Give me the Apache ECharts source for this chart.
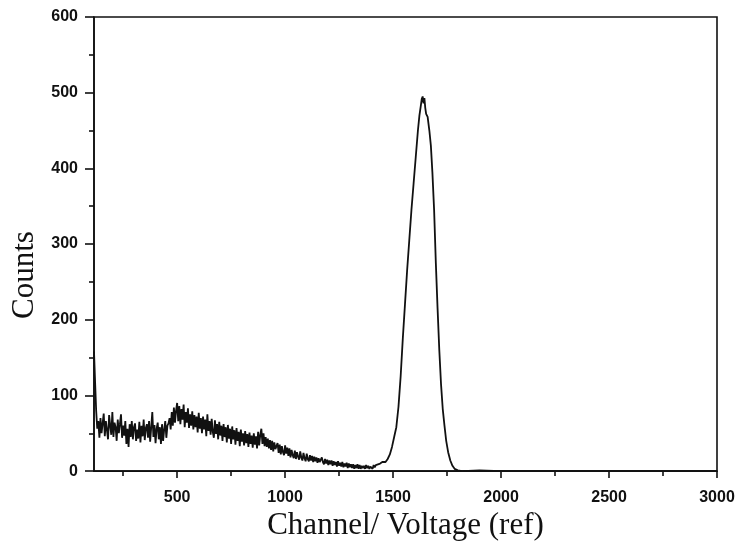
<!DOCTYPE html>
<html>
<head>
<meta charset="utf-8">
<script src="https://cdn.jsdelivr.net/npm/echarts@6/dist/echarts.min.js"></script>
<style>
html,body{margin:0;padding:0;background:#fff;}
#chart{width:738px;height:546px;}
</style>
</head>
<body>
<div id="chart"></div>
<script>
// Background region: channels 115..1450 in steps of 5
var bgStartChannel = 115;
var bgChannelStep = 5;
var bgCounts = [
  158,118,80,56,66,44,70,50,63,76,
  46,66,54,42,74,60,48,78,45,64,
  58,40,68,50,62,75,44,60,47,66,
  36,56,32,62,45,66,42,58,63,40,
  55,43,65,38,60,46,68,41,57,62,
  44,66,39,58,78,45,61,37,56,64,
  42,58,36,62,40,55,66,44,60,63,
  70,55,78,60,84,64,80,90,66,86,
  62,82,68,88,58,78,64,83,57,75,
  60,79,55,74,58,72,51,77,56,70,
  50,72,55,68,46,75,53,66,48,69,
  52,44,67,49,62,42,65,47,60,40,
  62,45,58,38,61,43,56,36,59,42,
  54,35,57,40,52,33,55,39,50,34,
  53,37,49,32,51,36,47,31,50,35,
  46,30,52,34,48,56,36,50,33,45,
  32,43,30,41,28,40,26,38,29,33,
  37,24,35,22,33,25,21,34,23,31,
  20,30,18,28,21,17,27,16,25,19,
  15,26,18,14,24,17,13,23,16,13,
  21,14,20,12,19,13,18,11,17,12,
  10,18,12,9,16,10,15,8,14,9,
  14,7,13,8,12,6,13,7,11,6,
  12,5,10,6,11,4,10,5,9,4,
  9,3,8,4,9,3,8,3,7,4,
  7,3,8,4,7,3,6,7,3,8,
  5,8,6,9,7,10,9,12
];
// Photopeak region
var peakChannels = [1455,1465,1475,1485,1495,1505,1515,1525,1535,1545,1555,1565,1575,1585,1595,1605,1615,1622,1628,1633,1637,1641,1645,1649,1653,1660,1668,1675,1682,1690,1698,1706,1714,1722,1730,1738,1746,1755,1765,1775,1785,1800,1820];
var peakCounts   = [10,12,16,22,32,45,58,85,125,175,220,265,305,345,380,415,450,470,482,492,495,486,493,480,472,468,450,430,395,345,275,215,160,115,82,60,40,25,14,7,3,1,0];
// Flat tail
var tailChannels = [1900,2000,2500,3000];
var tailCounts   = [1,0,0,0];

var xMajorTicks = [500,1000,1500,2000,2500,3000];
var xMinorTicks = [250,750,1250,1750,2250,2750];

var data = [];
for (var i = 0; i < bgCounts.length; i++) data.push([bgStartChannel + i*bgChannelStep, bgCounts[i]]);
for (var j = 0; j < peakChannels.length; j++) data.push([peakChannels[j], peakCounts[j]]);
for (var k = 0; k < tailChannels.length; k++) data.push([tailChannels[k], tailCounts[k]]);

var ink = '#111';
var plain = function (v) { return String(v); };
var chart = echarts.init(document.getElementById('chart'), null, {renderer:'canvas'});
chart.setOption({
  animation:false,
  backgroundColor:'#fff',
  grid:{left:94,right:21,top:17,bottom:73,show:true,borderColor:ink,borderWidth:1.6,backgroundColor:'transparent'},
  graphic:[{
    type:'text',x:25,y:275,rotation:Math.PI/2,
    style:{text:'Counts',fontFamily:'Liberation Serif',fontSize:31,fill:ink,align:'center',verticalAlign:'middle'}
  }],
  xAxis:[{
    type:'value',min:115,max:3000,position:'bottom',
    name:'Channel/ Voltage (ref)',nameLocation:'middle',nameGap:36,
    nameTextStyle:{fontFamily:'Liberation Serif',fontSize:31,color:ink},
    axisLine:{show:true,onZero:false,lineStyle:{color:ink,width:1.6}},
    axisTick:{show:true,customValues:xMajorTicks,length:7,lineStyle:{color:ink,width:1.6}},
    axisLabel:{show:true,customValues:xMajorTicks,margin:18,formatter:plain,fontFamily:'Liberation Sans',fontWeight:'bold',fontSize:16,color:ink},
    splitLine:{show:false}
  },{
    type:'value',min:115,max:3000,position:'bottom',
    axisLine:{show:false},
    axisTick:{show:true,customValues:xMinorTicks,length:5,lineStyle:{color:ink,width:1.6}},
    axisLabel:{show:false},
    splitLine:{show:false}
  }],
  yAxis:{
    type:'value',min:0,max:600,interval:100,
    axisLine:{show:true,lineStyle:{color:ink,width:1.6}},
    axisTick:{show:true,length:9,lineStyle:{color:ink,width:1.6}},
    minorTick:{show:true,splitNumber:2,length:5,lineStyle:{color:ink,width:1.6}},
    axisLabel:{margin:16,formatter:plain,fontFamily:'Liberation Sans',fontWeight:'bold',fontSize:16,color:ink},
    splitLine:{show:false}
  },
  series:[{
    type:'line',xAxisIndex:0,data:data,showSymbol:false,
    lineStyle:{color:ink,width:1.8},
    itemStyle:{color:ink}
  }]
});
</script>
</body>
</html>
